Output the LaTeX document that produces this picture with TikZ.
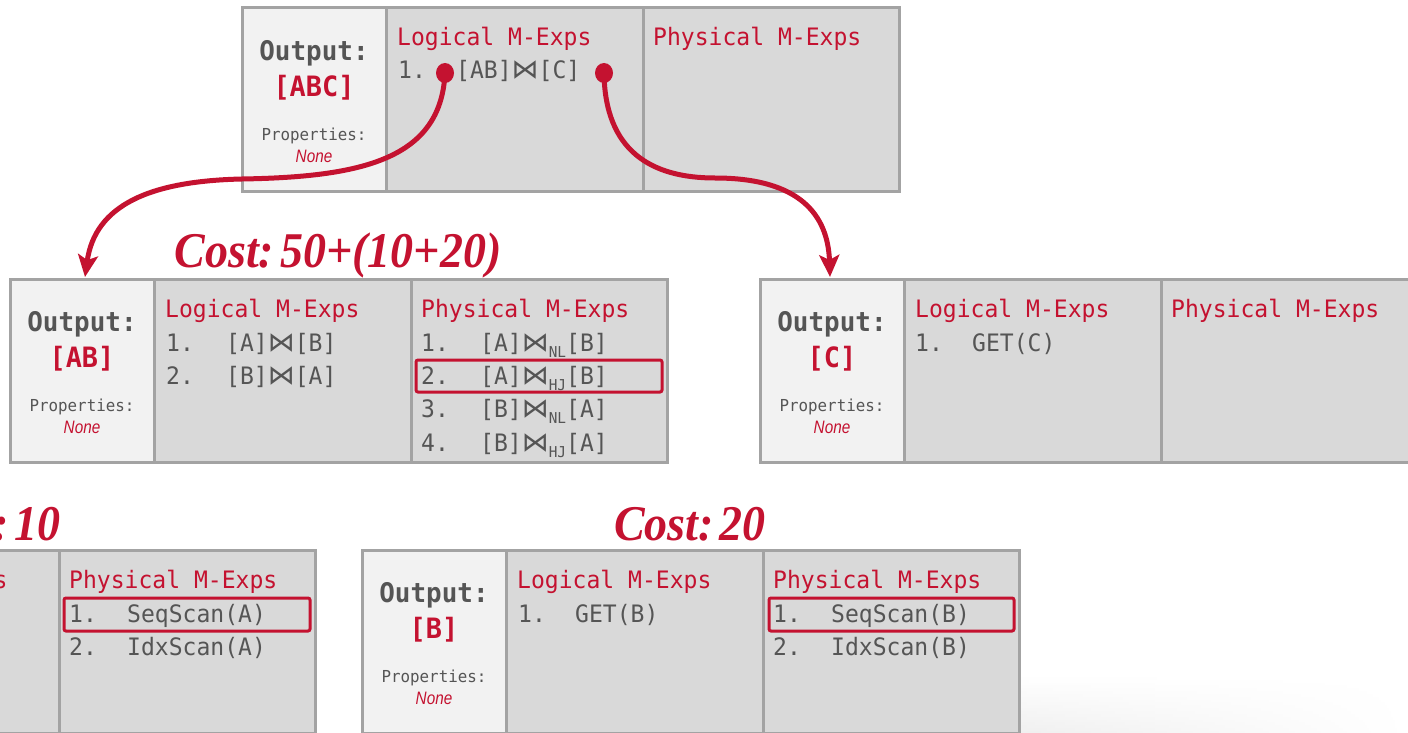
\documentclass[tikz,border=0pt]{standalone}
\usepackage{fontspec}
\usetikzlibrary{arrows.meta,fadings}
\newfontfamily\monof[FakeStretch=0.96]{DejaVu Sans Mono}
\newfontfamily\symf{DejaVu Sans}
\newfontfamily\costf[FakeStretch=0.92]{Liberation Serif}
\newfontfamily\nonef[FakeStretch=0.85]{Liberation Sans}
\newcommand\mfont[1]{\fontsize{#1}{#1}\selectfont}
\newcommand\bt{{\symf\mfont{27}⋈}}
\newcommand\jsub[1]{\raisebox{-6pt}{\mfont{15}#1}}
\newcommand\costof[1]{Cost:\hspace{6pt}#1}
\definecolor{cmured}{HTML}{C41230}
\definecolor{txtgray}{HTML}{555555}
\definecolor{edgegray}{HTML}{A3A3A3}
\definecolor{cellgray}{HTML}{D9D9D9}
\definecolor{leftgray}{HTML}{F2F2F2}
\tikzset{
  x=1pt, y=-1pt,
  panel/.style={draw=edgegray, line width=3pt, anchor=north west, inner sep=0pt,
    outer sep=0pt, minimum height=183pt},
  outpanel/.style={panel, fill=leftgray, minimum width=144pt},
  logpanel/.style={panel, fill=cellgray, minimum width=257pt},
  phypanel/.style={panel, fill=cellgray, minimum width=256pt},
  outlbl/.style={text=txtgray, font=\monof\bfseries\mfont{27}, inner sep=0pt},
  setlbl/.style={text=cmured, font=\monof\bfseries\mfont{28}, inner sep=0pt},
  proplbl/.style={text=txtgray, font=\monof\mfont{16.5}, inner sep=0pt},
  nonelbl/.style={text=cmured, font=\nonef\itshape\mfont{18}, inner sep=0pt},
  header/.style={text=cmured, font=\monof\mfont{24}, anchor=base west, inner sep=0pt},
  item/.style={text=txtgray, font=\monof\mfont{24}, anchor=base west, inner sep=0pt},
  costlbl/.style={text=cmured, font=\costf\bfseries\itshape\mfont{50}, anchor=base, inner sep=0pt},
  pick/.style={draw=cmured, line width=3pt, rounded corners=2pt},
  flow/.style={draw=cmured, line width=5pt, -{Stealth[length=22pt,width=20pt,inset=5pt]}},
  joint/.style={fill=cmured},
}
% group frame: name, left x, top y
\newcommand\mgroup[3]{%
  \node[outpanel] (#1-out) at (#2,#3) {};
  \node[logpanel] (#1-log) at (#2+144,#3) {};
  \node[phypanel] (#1-phy) at (#2+401,#3) {};
  \node[header] (#1-lh) at (#2+155,#3+38) {Logical M-Exps};
  \node[header] (#1-ph) at (#2+411,#3+38) {Physical M-Exps};
}
% output column: name, left x, top y, output set
\newcommand\mout[4]{%
  \node[outlbl] (#1-o1) at (#2+72,#3+45) {Output:};
  \node[setlbl] (#1-o2) at (#2+72,#3+80) {#4};
  \node[proplbl] (#1-o3) at (#2+72,#3+128) {Properties:};
  \node[nonelbl] (#1-o4) at (#2+72,#3+148) {None};
}
\begin{document}
\begin{tikzpicture}
\useasboundingbox (0,0) rectangle (1408,733);
\clip (0,0) rectangle (1408,733);
\shade[top color=white, bottom color=black!8, path fading=east] (900,675) rectangle (1408,733);

% ---- group [ABC]
\mgroup{abc}{242}{8}
\mout{abc}{242}{8}{[ABC]}
\node[item] (abc-l1n) at (398,79) {1.};
\node[item] (abc-l1) at (456,79) {[AB]\bt[C]};

% ---- group [AB]
\mgroup{ab}{10}{279}
\mout{ab}{10}{279}{[AB]}
\node[item] (ab-l1n) at (166,351) {1.};
\node[item] (ab-l1) at (226,351) {[A]\bt[B]};
\node[item] (ab-l2n) at (166,384.4) {2.};
\node[item] (ab-l2) at (226,384.4) {[B]\bt[A]};
\node[item] (ab-p1n) at (421,351) {1.};
\node[item] (ab-p1) at (480,351) {[A]\bt\jsub{NL}[B]};
\node[item] (ab-p2n) at (421,384.4) {2.};
\node[item] (ab-p2) at (480,384.4) {[A]\bt\jsub{HJ}[B]};
\node[item] (ab-p3n) at (421,417.8) {3.};
\node[item] (ab-p3) at (480,417.8) {[B]\bt\jsub{NL}[A]};
\node[item] (ab-p4n) at (421,451.2) {4.};
\node[item] (ab-p4) at (480,451.2) {[B]\bt\jsub{HJ}[A]};
\draw[pick] (416,360) rectangle (662,392);
\node[costlbl] (ab-cost) at (338,267) {\costof{50+(10+20)}};

% ---- group [C]
\mgroup{c}{760}{279}
\mout{c}{760}{279}{[C]}
\node[item] (c-l1n) at (915,351) {1.};
\node[item] (c-l1) at (972,351) {GET(C)};

% ---- group [A] (mostly off to the left)
\mgroup{a}{-342}{550}
\node[item] (a-p1n) at (69,622) {1.};
\node[item] (a-p1) at (127,622) {SeqScan(A)};
\node[item] (a-p2n) at (69,655.4) {2.};
\node[item] (a-p2) at (127,655.4) {IdxScan(A)};
\draw[pick] (64,598) rectangle (310,631);
\node[costlbl] (a-cost) at (-15,540) {\costof{10}};

% ---- group [B]
\mgroup{b}{362}{550}
\mout{b}{362}{550}{[B]}
\node[item] (b-l1n) at (518,622) {1.};
\node[item] (b-l1) at (575,622) {GET(B)};
\node[item] (b-p1n) at (773,622) {1.};
\node[item] (b-p1) at (831,622) {SeqScan(B)};
\node[item] (b-p2n) at (773,655.4) {2.};
\node[item] (b-p2) at (831,655.4) {IdxScan(B)};
\draw[pick] (769,598) rectangle (1014,631);
\node[costlbl] (b-cost) at (690,540) {\costof{20}};

% ---- child links of [AB]⋈[C]
\coordinate (jl) at (445,73);
\coordinate (jr) at (604,73);
\coordinate (abin) at (85,277);
\coordinate (cin) at (830,277);
\draw[flow] (jl) .. controls (441,160) and (360,177) .. (242,179)
  .. controls (150,181) and (95,205) .. (abin);
\draw[flow] (jr) .. controls (605,150) and (650,178) .. (715,178)
  .. controls (800,178) and (828,215) .. (cin);
\fill[joint] (jl) ellipse (9pt and 10pt);
\fill[joint] (jr) ellipse (9pt and 10pt);
\end{tikzpicture}
\end{document}
